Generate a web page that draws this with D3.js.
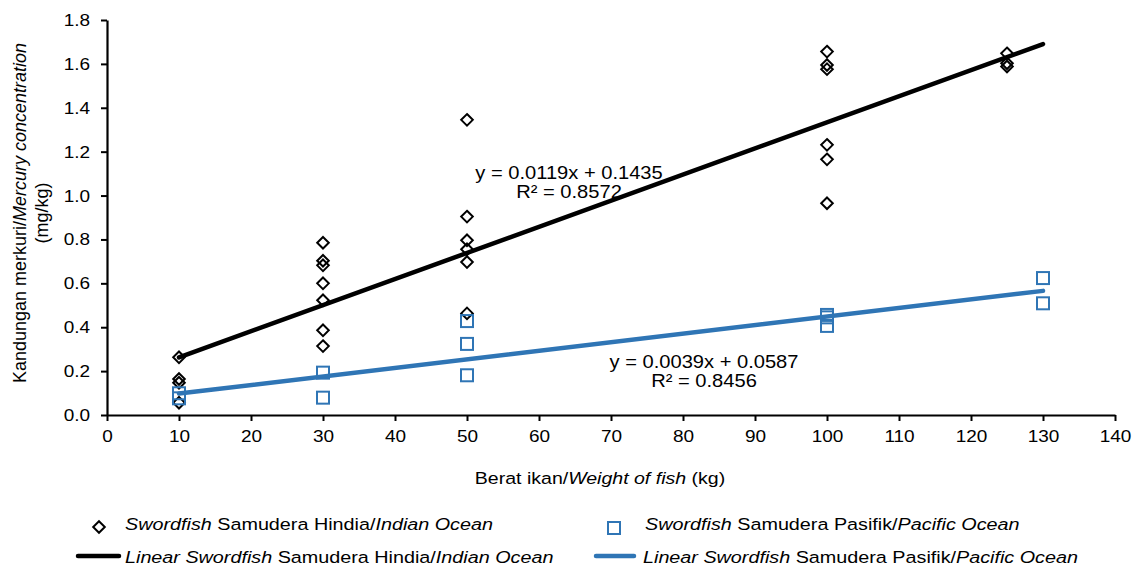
<!DOCTYPE html>
<html><head><meta charset="utf-8">
<script src="https://cdn.jsdelivr.net/npm/d3@7"></script>
<style>
body{margin:0;background:#fff;}
svg text{font-family:"Liberation Sans",Arial,sans-serif;fill:#000;}
</style></head>
<body><svg id="c" width="1135" height="567"></svg>
<script>
// Data
const indianX = [10,10,10,10, 30,30,30,30,30,30,30, 50,50,50,50,50,50, 100,100,100,100,100,100, 125,125,125];
const indianY = [0.263,0.164,0.147,0.056, 0.785,0.703,0.682,0.600,0.523,0.386,0.314, 1.345,0.904,0.796,0.755,0.697,0.463, 1.656,1.595,1.576,1.231,1.165,0.965, 1.648,1.603,1.588];
const pacificX = [10,10, 30,30, 50,50,50, 100,100,100, 130,130];
const pacificY = [0.099,0.076, 0.193,0.079, 0.428,0.324,0.181, 0.456,0.445,0.406, 0.624,0.509];
const indianTrend = [0.0119, 0.1435];   // slope, intercept
const pacificTrend = [0.0039, 0.0587];
const trendRange = [10, 130];
const xTicks = [0,10,20,30,40,50,60,70,80,90,100,110,120,130,140];
const yTicks = [0,0.2,0.4,0.6,0.8,1.0,1.2,1.4,1.6,1.8];
const indianEq = ["y = 0.0119x + 0.1435", "R² = 0.8572"];
const pacificEq = ["y = 0.0039x + 0.0587", "R² = 0.8456"];

const SX = 1.15; // horizontal text stretch seen in the reference
const svg = d3.select("#c");
const x = d3.scaleLinear().domain([0,140]).range([107,1115]);
const y = d3.scaleLinear().domain([0,1.8]).range([415,20]);
const BLUE = "#2F75B5";

// axes
const xa = svg.append("g").attr("transform","translate(0,415)")
  .call(d3.axisBottom(x).tickValues(xTicks).tickSize(6).tickSizeOuter(0));
const ya = svg.append("g").attr("transform","translate(107,0)")
  .call(d3.axisLeft(y).tickValues(yTicks).tickSize(6).tickSizeOuter(0).tickFormat(d3.format(".1f")));
[xa,ya].forEach(a=>{
  a.select(".domain").attr("stroke","#000").attr("stroke-width",2.2);
  a.selectAll(".tick line").attr("stroke","#000").attr("stroke-width",2);
  a.selectAll(".tick text").attr("font-size",16.5).attr("fill","#000").style("font-family","Liberation Sans, Arial, sans-serif");
});
xa.selectAll(".tick text").attr("y",27).attr("dy",null).attr("transform",`scale(${SX},1)`);
ya.selectAll(".tick text").attr("x",-17/SX).attr("dy","0.33em").attr("transform",`scale(${SX},1)`);

// trend lines
function trend(t, color){
  svg.append("line")
    .attr("x1",x(trendRange[0])).attr("y1",y(t[0]*trendRange[0]+t[1]))
    .attr("x2",x(trendRange[1])).attr("y2",y(t[0]*trendRange[1]+t[1]))
    .attr("stroke",color).attr("stroke-width",4.5).attr("stroke-linecap","round");
}
trend(indianTrend,"#000");
trend(pacificTrend,BLUE);

// markers
const diamond = s => `M0,${-s}L${s},0L0,${s}L${-s},0Z`;
svg.append("g").selectAll("path").data(indianX.map((d,i)=>[d,indianY[i]])).join("path")
  .attr("d",diamond(5.8)).attr("transform",d=>`translate(${x(d[0])},${y(d[1])})`)
  .attr("fill","none").attr("stroke","#000").attr("stroke-width",2);
svg.append("g").selectAll("rect").data(pacificX.map((d,i)=>[d,pacificY[i]])).join("rect")
  .attr("x",d=>x(d[0])-6).attr("y",d=>y(d[1])-6).attr("width",12).attr("height",12)
  .attr("fill","none").attr("stroke",BLUE).attr("stroke-width",2);

// stretched text helper
function stext(px, py, size, anchor, parts){
  const g = svg.append("g").attr("transform",`translate(${px},${py}) scale(${SX},1)`);
  const t = g.append("text").attr("font-size",size).attr("text-anchor",anchor);
  parts.forEach(p=>t.append("tspan").attr("font-style",p[1]?"italic":"normal").text(p[0]));
  return t;
}

// equations
stext(569, 179, 17.5, "middle", [[indianEq[0],0]]);
stext(569, 198, 17.5, "middle", [[indianEq[1],0]]);
stext(704, 368, 17.5, "middle", [[pacificEq[0],0]]);
stext(704, 387, 17.5, "middle", [[pacificEq[1],0]]);

// axis titles
stext(600, 484, 17, "middle", [["Berat ikan/",0],["Weight of fish",1],[" (kg)",0]]);

const yt = svg.append("text").attr("transform","translate(26,213) rotate(-90)").attr("text-anchor","middle").attr("font-size",18);
yt.append("tspan").text("Kandungan merkuri/");
yt.append("tspan").attr("font-style","italic").text("Mercury concentration");
svg.append("text").attr("transform","translate(48,213) rotate(-90)").attr("text-anchor","middle").attr("font-size",18).text("(mg/kg)");

// legend
svg.append("path").attr("d",diamond(5.8)).attr("transform","translate(99,527)")
  .attr("fill","none").attr("stroke","#000").attr("stroke-width",2);
stext(125,530,17.2,"start",[["Swordfish",1],[" Samudera Hindia/",0],["Indian Ocean",1]]);
svg.append("line").attr("x1",78).attr("x2",119).attr("y1",556).attr("y2",556).attr("stroke","#000").attr("stroke-width",4.5).attr("stroke-linecap","round");
stext(125,563,17.2,"start",[["Linear Swordfish",1],[" Samudera Hindia/",0],["Indian Ocean",1]]);

svg.append("rect").attr("x",608).attr("y",522).attr("width",12).attr("height",12)
  .attr("fill","none").attr("stroke",BLUE).attr("stroke-width",2);
stext(645,530,17.2,"start",[["Swordfish",1],[" Samudera Pasifik/",0],["Pacific Ocean",1]]);
svg.append("line").attr("x1",596).attr("x2",634).attr("y1",556).attr("y2",556).attr("stroke",BLUE).attr("stroke-width",4.5).attr("stroke-linecap","round");
stext(643,563,17.2,"start",[["Linear Swordfish",1],[" Samudera Pasifik/",0],["Pacific Ocean",1]]);
</script></body></html>
